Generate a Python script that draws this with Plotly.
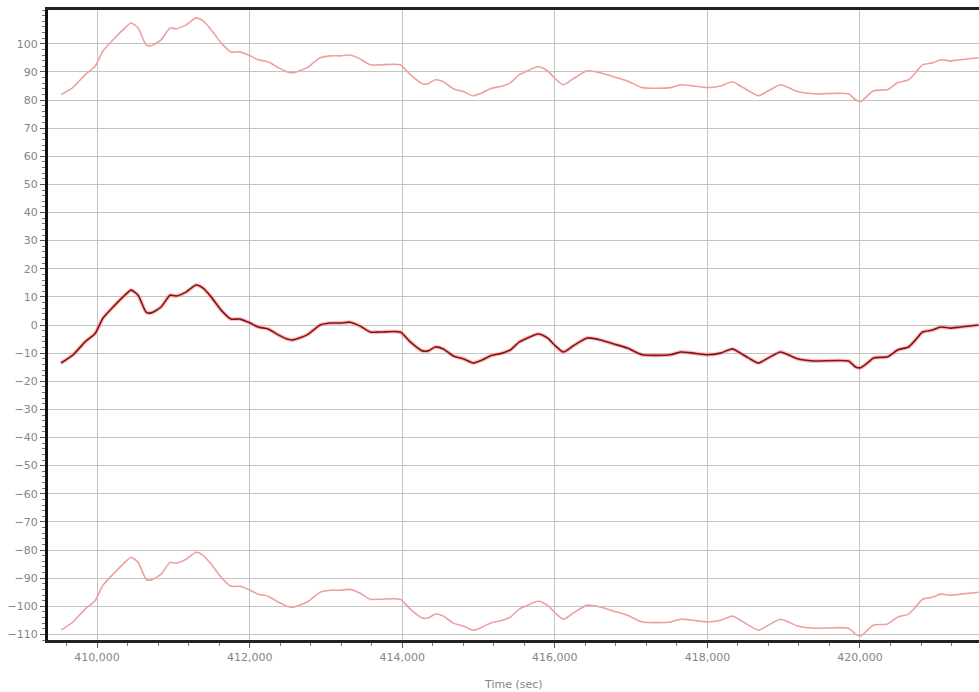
import plotly.graph_objects as go

time_sec = [409528, 409685, 409843, 409974, 410079, 410210, 410341, 410446, 410538, 410643,
            410708, 410839, 410957, 411036, 411167, 411298, 411390, 411495, 411626, 411757,
            411875, 412007, 412111, 412243, 412374, 412492, 412570, 412754, 412925, 413056,
            413187, 413318, 413449, 413580, 413712, 413974, 414105, 414262, 414341, 414433,
            414538, 414669, 414800, 414931, 415049, 415154, 415312, 415416, 415535, 415587,
            415784, 415902, 416007, 416112, 416243, 416426, 416597, 416767, 416951, 417148,
            417515, 417646, 417817, 418000, 418171, 418328, 418433, 418538, 418669, 418800,
            418957, 419062, 419180, 419390, 419849, 419941, 420007, 420098, 420177, 420361,
            420492, 420636, 420728, 420820, 420951, 421056, 421187, 421318, 421554]

error_mid = [-13.5, -10.6, -6.0, -3.0, 2.5, 6.4, 10.0, 12.4, 10.6, 4.6,
             4.3, 6.4, 10.6, 10.3, 11.7, 14.2, 13.1, 10.0, 5.3, 2.1,
             2.1, 0.7, -0.7, -1.4, -3.5, -5.0, -5.3, -3.5, 0.0, 0.7,
             0.7, 1.0, -0.4, -2.5, -2.5, -2.5, -6.0, -9.2, -9.2, -7.8,
             -8.5, -11.0, -12.0, -13.5, -12.4, -11.0, -10.0, -8.9, -6.0, -5.3,
             -3.2, -4.6, -7.4, -9.6, -7.4, -4.6, -5.3, -6.7, -8.2, -10.6,
             -10.6, -9.6, -10.0, -10.6, -10.0, -8.5, -10.0, -11.7, -13.5, -11.7,
             -9.6, -10.6, -12.0, -12.8, -12.8, -14.9, -15.2, -13.5, -11.7, -11.3,
             -8.9, -7.8, -5.3, -2.5, -1.8, -0.7, -1.1, -0.7, 0.0]

error_upper = [81.9, 84.5, 89.0, 92.0, 97.5, 101.4, 105.0, 107.4, 105.6, 99.6,
               99.3, 101.4, 105.6, 105.3, 106.7, 109.2, 108.1, 105.0, 100.3, 97.1,
               97.1, 95.7, 94.3, 93.6, 91.5, 90.0, 89.7, 91.5, 95.0, 95.7,
               95.7, 96.0, 94.6, 92.5, 92.5, 92.5, 89.0, 85.8, 85.8, 87.2,
               86.5, 84.0, 83.0, 81.5, 82.6, 84.0, 85.0, 86.1, 89.0, 89.7,
               91.8, 90.4, 87.6, 85.4, 87.6, 90.4, 89.7, 88.3, 86.8, 84.4,
               84.4, 85.4, 85.0, 84.4, 85.0, 86.5, 85.0, 83.3, 81.5, 83.3,
               85.4, 84.4, 83.0, 82.2, 82.2, 80.1, 79.4, 81.5, 83.3, 83.7,
               86.1, 87.2, 89.7, 92.5, 93.2, 94.3, 93.9, 94.3, 95.0]

error_lower = [-108.5, -105.6, -101.0, -98.0, -92.5, -88.6, -85.0, -82.6, -84.4, -90.4,
               -90.7, -88.6, -84.4, -84.7, -83.3, -80.8, -81.9, -85.0, -89.7, -92.9,
               -92.9, -94.3, -95.7, -96.4, -98.5, -100.0, -100.3, -98.5, -95.0, -94.3,
               -94.3, -94.0, -95.4, -97.5, -97.5, -97.5, -101.0, -104.2, -104.2, -102.8,
               -103.5, -106.0, -107.0, -108.5, -107.4, -106.0, -105.0, -103.9, -101.0, -100.3,
               -98.2, -99.6, -102.4, -104.6, -102.4, -99.6, -100.3, -101.7, -103.2, -105.6,
               -105.6, -104.6, -105.0, -105.6, -105.0, -103.5, -105.0, -106.7, -108.5, -106.7,
               -104.6, -105.6, -107.0, -107.8, -107.8, -109.9, -110.6, -108.5, -106.7, -106.3,
               -103.9, -102.8, -100.3, -97.5, -96.8, -95.7, -96.1, -95.7, -95.0]

x_tick_vals = [410000, 412000, 414000, 416000, 418000, 420000]
x_tick_text = ["410,000", "412,000", "414,000", "416,000", "418,000", "420,000"]
y_tick_vals = list(range(-110, 101, 10))

fig = go.Figure()
fig.add_trace(go.Scatter(x=time_sec, y=error_upper, mode="lines",
                         line=dict(color="#eca0a0", width=1.6, shape="spline", smoothing=0.6),
                         showlegend=False))
fig.add_trace(go.Scatter(x=time_sec, y=error_lower, mode="lines",
                         line=dict(color="#eca0a0", width=1.6, shape="spline", smoothing=0.6),
                         showlegend=False))
fig.add_trace(go.Scatter(x=time_sec, y=error_mid, mode="lines",
                         line=dict(color="rgba(240,140,140,0.55)", width=4, shape="spline", smoothing=0.6),
                         showlegend=False, hoverinfo="skip"))
fig.add_trace(go.Scatter(x=time_sec, y=error_mid, mode="lines",
                         line=dict(color="#8a0f0f", width=1.6, shape="spline", smoothing=0.6),
                         showlegend=False))

tick_font = dict(family="DejaVu Sans", size=11, color="#858585")

fig.update_layout(
    width=979, height=692,
    margin=dict(l=48, r=0, t=10, b=52),
    paper_bgcolor="white", plot_bgcolor="white",
    xaxis=dict(
        range=[409357, 421560],
        tickvals=x_tick_vals, ticktext=x_tick_text,
        showgrid=True, gridcolor="#c4c4c4", gridwidth=1,
        zeroline=False, automargin=False,
        showline=True, linecolor="#222", linewidth=3, mirror=True,
        ticks="outside", ticklen=5, tickcolor="#555",
        minor=dict(dtick=400, tick0=410000, ticks="outside", ticklen=3, tickcolor="#777", showgrid=False),
        tickfont=tick_font,
    ),
    yaxis=dict(
        range=[-112, 112],
        tickvals=y_tick_vals,
        showgrid=True, gridcolor="#c4c4c4", gridwidth=1,
        zeroline=False, automargin=False,
        showline=True, linecolor="#111", linewidth=3,
        ticks="outside", ticklen=5, tickcolor="#555",
        minor=dict(dtick=2, tick0=0, ticks="outside", ticklen=3, tickcolor="#777", showgrid=False),
        tickfont=tick_font,
    ),
    annotations=[dict(text="Time (sec)", x=0.5, y=0, xref="paper", yref="paper",
                      xanchor="center", yanchor="top", yshift=-36, showarrow=False,
                      font=dict(family="DejaVu Sans", size=11, color="#858585"))],
)

fig.write_html("out.html", config={"displayModeBar": False},
               post_script="document.body.style.margin='0';document.body.style.overflow='hidden';")
